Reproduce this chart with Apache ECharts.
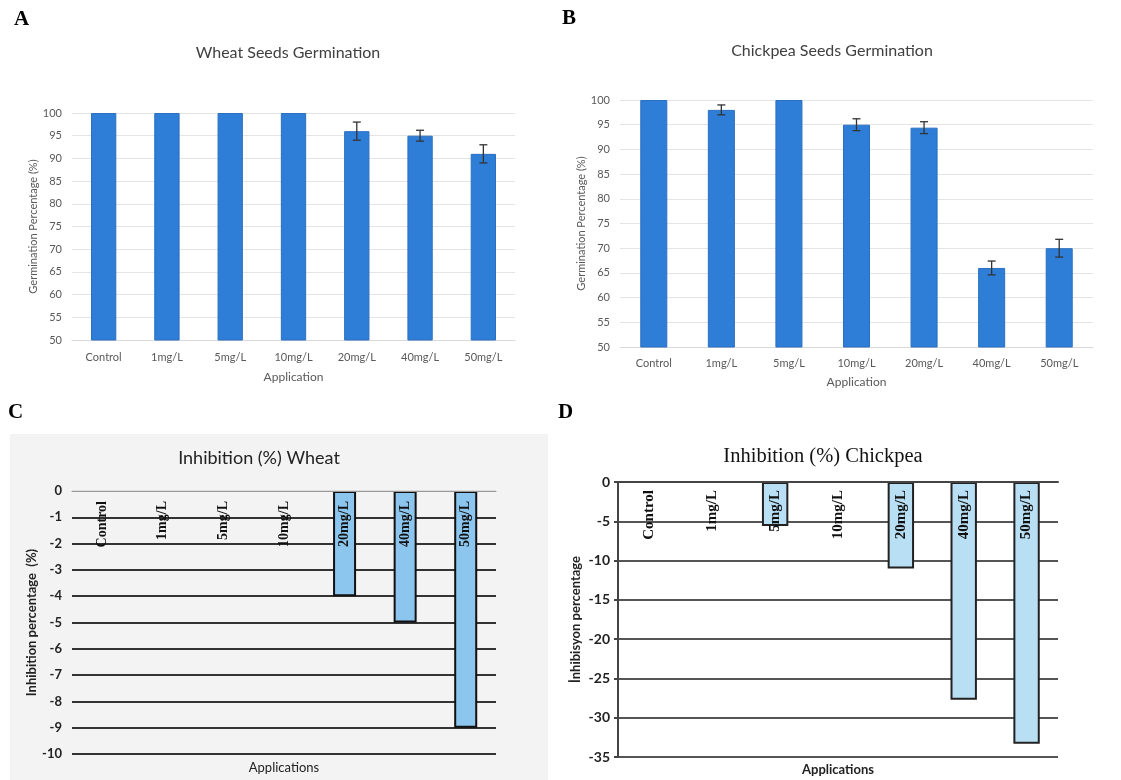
<!DOCTYPE html>
<html>
<head>
<meta charset="utf-8">
<script src="https://cdn.jsdelivr.net/npm/echarts@6/dist/echarts.min.js"></script>
<style>
  html, body { margin: 0; padding: 0; background: #fff; }
  #chart { width: 1121px; height: 780px; }
</style>
</head>
<body>
<div id="chart"></div>
<script>
// categories shared by all four panels
const categories = ["Control", "1mg/L", "5mg/L", "10mg/L", "20mg/L", "40mg/L", "50mg/L"];

// A - wheat germination (%) and error
const wheatGerm = [100, 100, 100, 100, 96, 95, 91];
const wheatErr = [0, 0, 0, 0, 2, 1.2, 2];

// B - chickpea germination (%) and error
const chickpeaGerm = [100, 98, 100, 95, 94.4, 66, 70];
const chickpeaErr = [0, 1, 0, 1.2, 1.2, 1.4, 1.8];

// C / D - inhibition (%)
const wheatInhib = [0, 0, 0, 0, -4, -5, -9];
const chickpeaInhib = [0, 0, -5.6, 0, -11, -27.7, -33.3];

const sans = "Lato";
const serif = "Liberation Serif";

// error bar data: [index, low, high]
const errData = (vals, errs) =>
  vals.map((v, i) => [i, v - errs[i], v + errs[i]]).filter((d, i) => errs[i] > 0);

// zero bars are not drawn (otherwise their border shows as a dash)
const noZero = (vals) => vals.map((v) => (v === 0 ? null : v));

const errorBar = (params, api) => {
  const lo = api.coord([api.value(0), api.value(1)]);
  const hi = api.coord([api.value(0), api.value(2)]);
  const w = 4;
  const style = { stroke: "#333", lineWidth: 1.3 };
  return {
    type: "group",
    children: [
      { type: "line", shape: { x1: lo[0], y1: lo[1], x2: hi[0], y2: hi[1] }, style },
      { type: "line", shape: { x1: hi[0] - w, y1: hi[1], x2: hi[0] + w, y2: hi[1] }, style },
      { type: "line", shape: { x1: lo[0] - w, y1: lo[1], x2: lo[0] + w, y2: lo[1] }, style },
    ],
  };
};

// shared axis styles for the top two (Excel-like) panels
const germX = (gridIndex, margin, nameGap) => ({
  type: "category",
  gridIndex,
  data: categories,
  axisLine: { lineStyle: { color: "#d9d9d9" } },
  axisTick: { show: false },
  axisLabel: { color: "#595959", fontSize: 11, fontFamily: sans, margin, interval: 0 },
  name: "Application",
  nameLocation: "middle",
  nameGap,
  nameTextStyle: { color: "#595959", fontSize: 12, fontFamily: sans },
});
const germY = (gridIndex, nameGap) => ({
  type: "value",
  gridIndex,
  min: 50,
  max: 100,
  interval: 5,
  axisLine: { show: false },
  axisTick: { show: false },
  axisLabel: { color: "#595959", fontSize: 11, fontFamily: sans, margin: 10 },
  splitLine: { lineStyle: { color: "#e4e4e4" } },
  name: "Germination Percentage (%)",
  nameLocation: "middle",
  nameGap,
  nameTextStyle: { color: "#595959", fontSize: 11, fontFamily: sans },
});

const letter = (text, x, y) => ({
  type: "text",
  left: x,
  top: y,
  style: { text, font: "bold 21px 'Liberation Serif'", fill: "#000" },
});

const myChart = echarts.init(document.getElementById("chart"));
myChart.setOption({
  animation: false,
  backgroundColor: "#fff",
  graphic: [
    // light grey panel behind chart C
    { type: "rect", left: 10, top: 434, shape: { width: 538, height: 346 }, style: { fill: "#f3f3f3" }, z: -10, silent: true },
    letter("A", 14, 9),
    letter("B", 562, 8),
    letter("C", 8, 402),
    letter("D", 558, 402),
  ],
  title: [
    {
      text: "Wheat Seeds Germination",
      left: 288, top: 45, textAlign: "center", padding: 0,
      textStyle: { fontFamily: sans, fontSize: 16, fontWeight: "normal", color: "#404040" },
    },
    {
      text: "Chickpea Seeds Germination",
      left: 832, top: 43, textAlign: "center", padding: 0,
      textStyle: { fontFamily: sans, fontSize: 16, fontWeight: "normal", color: "#404040" },
    },
    {
      text: "Inhibition (%) Wheat",
      left: 259, top: 449, textAlign: "center", padding: 0,
      textStyle: { fontFamily: sans, fontSize: 18, fontWeight: "normal", color: "#222" },
    },
    {
      text: "Inhibition (%) Chickpea",
      left: 823, top: 446, textAlign: "center", padding: 0,
      textStyle: { fontFamily: serif, fontSize: 20.5, fontWeight: "normal", color: "#111" },
    },
  ],
  grid: [
    { left: 72, top: 113, width: 443, height: 227 },
    { left: 620, top: 100, width: 473, height: 247 },
    { left: 72, top: 491, width: 424, height: 263 },
    { left: 618, top: 482, width: 440, height: 275 },
  ],
  xAxis: [
    germX(0, 12, 31),
    germX(1, 11, 29),
    // C: labels sit inside the plot, hanging from the zero line, above the bars
    {
      type: "category",
      gridIndex: 2,
      position: "top",
      z: 10,
      data: categories,
      axisLine: { lineStyle: { color: "#999", width: 1 } },
      axisTick: { show: false },
      axisLabel: {
        inside: true, rotate: 90, margin: 10, interval: 0,
        fontFamily: serif, fontWeight: "bold", fontSize: 14, color: "#111",
      },
    },
    {
      type: "category",
      gridIndex: 2,
      position: "bottom",
      data: categories,
      axisLine: { show: false },
      axisTick: { show: false },
      axisLabel: { show: false },
      name: "Applications",
      nameLocation: "middle",
      nameGap: 7,
      nameTextStyle: { fontFamily: sans, fontSize: 13, color: "#222" },
    },
    // D
    {
      type: "category",
      gridIndex: 3,
      position: "top",
      z: 10,
      data: categories,
      axisLine: { lineStyle: { color: "#444", width: 2 } },
      axisTick: { show: false },
      axisLabel: {
        inside: true, rotate: 90, margin: 8, interval: 0,
        fontFamily: serif, fontWeight: "bold", fontSize: 15, color: "#111",
      },
    },
    {
      type: "category",
      gridIndex: 3,
      position: "bottom",
      data: categories,
      axisLine: { show: false },
      axisTick: { show: false },
      axisLabel: { show: false },
      name: "Applications",
      nameLocation: "middle",
      nameGap: 6,
      nameTextStyle: { fontFamily: sans, fontSize: 13, fontWeight: "bold", color: "#222" },
    },
  ],
  yAxis: [
    germY(0, 33),
    germY(1, 32),
    {
      type: "value",
      gridIndex: 2,
      min: -10,
      max: 0,
      interval: 1,
      axisLine: { show: false },
      axisTick: { show: false },
      axisLabel: { fontFamily: sans, fontWeight: "bold", fontSize: 13, color: "#222", margin: 10 },
      // last line (0) is a thin grey one
      splitLine: {
        lineStyle: {
          width: 2,
          color: ["#333", "#333", "#333", "#333", "#333", "#333", "#333", "#333", "#333", "#333", "#ddd"],
        },
      },
      name: "Inhibition percentage  (%)",
      nameLocation: "middle",
      nameGap: 32,
      nameTextStyle: { fontFamily: sans, fontWeight: "bold", fontSize: 13, color: "#222" },
    },
    {
      type: "value",
      gridIndex: 3,
      min: -35,
      max: 0,
      interval: 5,
      axisLine: { show: true, lineStyle: { color: "#444", width: 2 } },
      axisTick: { show: true, length: 4, lineStyle: { color: "#444", width: 2 } },
      axisLabel: { fontFamily: sans, fontWeight: "bold", fontSize: 14, color: "#222", margin: 8 },
      splitLine: { lineStyle: { width: 2, color: "#555" } },
      name: "İnhibisyon percentage",
      nameLocation: "middle",
      nameGap: 36,
      nameTextStyle: { fontFamily: sans, fontWeight: "bold", fontSize: 13, color: "#222" },
    },
  ],
  series: [
    {
      type: "bar", xAxisIndex: 0, yAxisIndex: 0, data: wheatGerm, barWidth: "40%",
      itemStyle: { color: "#2e7ed8", borderColor: "#2a6fc0", borderWidth: 1 },
    },
    {
      type: "custom", xAxisIndex: 0, yAxisIndex: 0, data: errData(wheatGerm, wheatErr),
      renderItem: errorBar, z: 5,
    },
    {
      type: "bar", xAxisIndex: 1, yAxisIndex: 1, data: chickpeaGerm, barWidth: "40%",
      itemStyle: { color: "#2e7ed8", borderColor: "#2a6fc0", borderWidth: 1 },
    },
    {
      type: "custom", xAxisIndex: 1, yAxisIndex: 1, data: errData(chickpeaGerm, chickpeaErr),
      renderItem: errorBar, z: 5,
    },
    {
      type: "bar", xAxisIndex: 2, yAxisIndex: 2, data: noZero(wheatInhib), barWidth: "38%",
      itemStyle: { color: "#8cc6ee", borderColor: "#111", borderWidth: 2 },
    },
    {
      type: "bar", xAxisIndex: 4, yAxisIndex: 3, data: noZero(chickpeaInhib), barWidth: "42%",
      itemStyle: { color: "#b9dff4", borderColor: "#222", borderWidth: 2 },
    },
  ],
});
window.addEventListener("resize", function () {
  myChart.resize();
});
</script>
</body>
</html>
